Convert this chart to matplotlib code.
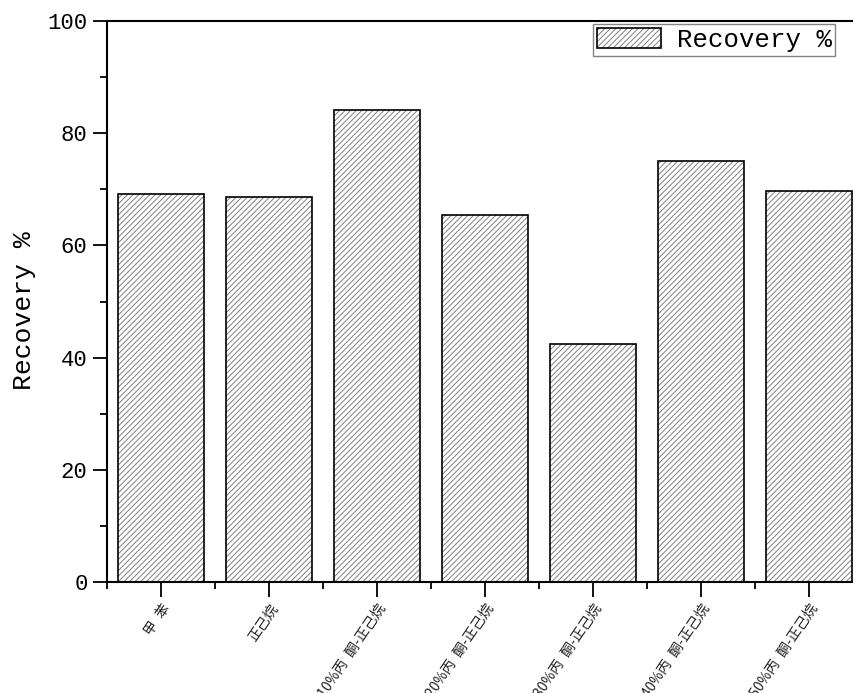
import matplotlib.pyplot as plt
import numpy as np
from matplotlib.ticker import MultipleLocator, FixedLocator

solvents = ["甲\u2002苯", "正己烷", "10%丙\u2002酮-正己烷", "20%丙\u2002酮-正己烷",
            "30%丙\u2002酮-正己烷", "40%丙\u2002酮-正己烷", "50%丙\u2002酮-正己烷"]
recovery = [69.1, 68.6, 84.2, 65.4, 42.5, 75.0, 69.7]

plt.rcParams['hatch.linewidth'] = 0.7

fig = plt.figure(figsize=(8.54, 6.93), dpi=100)
# axes runs past the right edge of the figure, like the original export
ax = fig.add_axes([107 / 854, 111 / 693, 756 / 854, 561 / 693])

x = np.arange(1, len(solvents) + 1)
# grey hatch first, then black outline on top
hatch_bars = ax.bar(x, recovery, width=0.8, color='white', edgecolor='#808080',
                    linewidth=0, hatch='//////')
edge_bars = ax.bar(x, recovery, width=0.8, fill=False, edgecolor='black',
                   linewidth=1.2)

ax.set_xlim(0.5, len(solvents) + 0.5)
ax.set_ylim(0, 100)

num_font = 'Liberation Mono'
ax.set_xticks(x)
ax.set_xticklabels(solvents, rotation=56, ha='right', rotation_mode='anchor',
                   fontsize=10, family=['Noto Sans CJK SC', 'DejaVu Sans'],
                   color='#222222')
ax.xaxis.set_minor_locator(FixedLocator(np.arange(0.5, len(solvents) + 1, 1)))
ax.yaxis.set_major_locator(MultipleLocator(20))
ax.yaxis.set_minor_locator(MultipleLocator(10))
for lab in ax.get_yticklabels():
    lab.set_fontfamily(num_font)
    lab.set_fontsize(16)

ax.tick_params(which='major', direction='out', length=10, width=1.3, pad=4)
ax.tick_params(which='minor', direction='out', length=5, width=1.3)
ax.tick_params(axis='x', which='major', length=11, pad=3)
for s in ax.spines.values():
    s.set_linewidth(1.5)

ax.set_ylabel('Recovery %', fontsize=19, family=num_font, labelpad=8)
ax.yaxis.label.set_y(0.483)

leg = ax.legend([(hatch_bars[0], edge_bars[0])], ['Recovery %'],
                loc='upper left', bbox_to_anchor=(593 / 854, 1 - 24 / 693),
                bbox_transform=fig.transFigure,
                prop={'family': num_font, 'size': 18.5}, frameon=True,
                fancybox=False, handlelength=2.5, handleheight=0.8,
                borderpad=0.15, handletextpad=0.6, borderaxespad=0)
leg.get_frame().set_edgecolor('#666666')
leg.get_frame().set_linewidth(1.0)

fig.savefig('out.png', dpi=100)
